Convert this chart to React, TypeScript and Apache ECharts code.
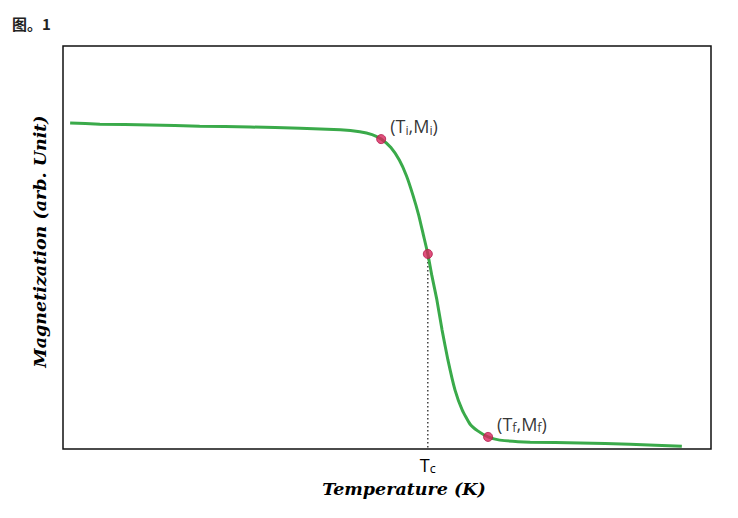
import React, { useEffect, useRef } from "react";
import * as echarts from "echarts";

// Temperature (arbitrary 0–100 scale) and magnetization (arbitrary 0–100 scale)
const temperature = [1.1, 5.7, 13.4, 21.1, 28.9, 36.6, 42.8, 45.8, 47.7, 49.1, 50.6, 51.9, 53.0, 54.0, 54.9, 55.6, 56.3, 56.9, 57.7, 58.5, 59.4, 60.5, 61.6, 62.8, 64.0, 65.6, 67.4, 72.1, 79.8, 87.5, 95.5];
const magnetization = [80.9, 80.6, 80.4, 80.1, 79.9, 79.6, 79.2, 78.7, 78.0, 76.9, 74.8, 71.7, 67.8, 63.0, 58.0, 53.2, 48.4, 43.2, 37.0, 29.5, 22.1, 14.6, 9.7, 6.2, 4.5, 3.0, 2.2, 1.7, 1.5, 1.2, 0.7];

const keyNames = ["initial", "curie", "final"];
const keyT = [49.1, 56.3, 65.6];
const keyM = [76.9, 48.4, 3.0];
const tcValue = 56.3;

export default function App() {
  const ref = useRef<HTMLDivElement>(null);
  useEffect(() => {
    if (!ref.current) return;
    const chart = echarts.init(ref.current, null, { renderer: "svg" });
    const curve = temperature.map((t, i) => [t, magnetization[i]]);
    const labelFont = "'Open Sans', 'DejaVu Sans', sans-serif";
    const rich = {
      b: { fontFamily: labelFont, fontSize: 18, color: "#000" },
      s: { fontFamily: labelFont, fontSize: 12.5, color: "#000", verticalAlign: "bottom", padding: [8, 0, 0, 0] },
    };
    const axisNameStyle = { fontFamily: "'DejaVu Serif', serif", fontWeight: "bold", fontStyle: "italic", fontSize: 17.5, color: "#000" };
    chart.setOption({
      animation: false,
      backgroundColor: "#ffffff",
      title: {
        text: "图。1",
        left: 7,
        top: 11,
        textStyle: { fontFamily: "'Noto Sans CJK SC', serif", fontWeight: "bold", fontSize: 15, color: "#222" },
      },
      grid: { left: 63, top: 46, right: 27, bottom: 69, show: true, borderColor: "#111", borderWidth: 1.5, backgroundColor: "#fff" },
      xAxis: {
        type: "value",
        min: 0,
        max: 100,
        name: "Temperature (K)",
        nameLocation: "middle",
        nameGap: 31,
        nameTextStyle: { ...axisNameStyle, padding: [0, 0, 0, 34] },
        axisLine: { show: false },
        axisTick: { show: false },
        splitLine: { show: false },
        axisLabel: {
          customValues: [tcValue],
          margin: 5,
          formatter: () => "{b|T}{s|c}",
          rich,
        },
      },
      yAxis: {
        type: "value",
        min: 0,
        max: 100,
        name: "Magnetization (arb. Unit)",
        nameLocation: "middle",
        nameGap: 14,
        nameTextStyle: { ...axisNameStyle, padding: [0, 0, 0, 12] },
        axisLine: { show: false },
        axisTick: { show: false },
        splitLine: { show: false },
        axisLabel: { show: false },
      },
      series: [
        {
          type: "line",
          data: [[tcValue, keyM[1]], [tcValue, 0]],
          symbol: "none",
          lineStyle: { color: "#222", width: 1.3, type: [1.5, 2.5] },
          z: 1,
        },
        {
          type: "line",
          data: curve,
          symbol: "none",
          smooth: 0.15,
          lineStyle: { color: "#3aaa4a", width: 3 },
          z: 2,
        },
        {
          type: "scatter",
          data: keyT.map((t, i) => ({ value: [t, keyM[i]], name: keyNames[i] })),
          symbolSize: 9,
          itemStyle: { color: "#d8245c", borderColor: "#b01848", borderWidth: 1 },
          z: 3,
          label: {
            show: true,
            formatter: (p: any) =>
              p.name === "initial" ? "{b|(T}{s|i}{b|,M}{s|i}{b|)}" : p.name === "final" ? "{b|(T}{s|f}{b|,M}{s|f}{b|)}" : "",
            position: "right",
            offset: [-1, -13],
            rich,
          },
        },
      ],
    });
    return () => chart.dispose();
  }, []);
  return <div ref={ref} style={{ position: "fixed", left: 0, top: 0, width: 738, height: 518 }} />;
}
